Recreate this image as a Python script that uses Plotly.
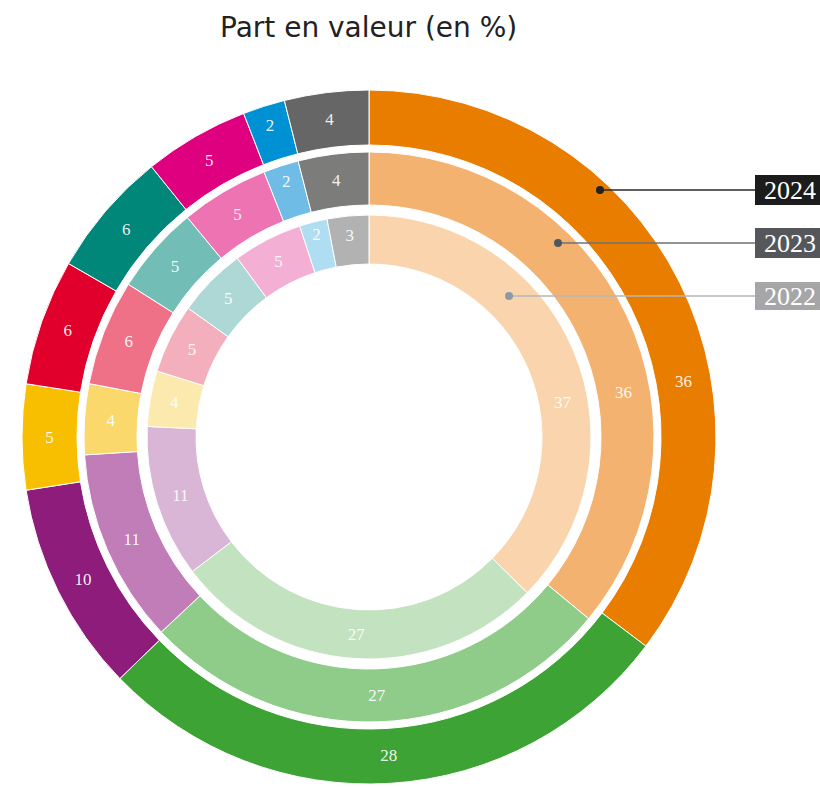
import math
import plotly.graph_objects as go

W, H = 820, 787

categories = ["Cat. A", "Cat. B", "Cat. C", "Cat. D", "Cat. E", "Cat. F", "Cat. G", "Cat. H", "Cat. I"]
values_2024 = [36, 28, 10, 5, 6, 6, 5, 2, 4]
values_2023 = [36, 27, 11, 4, 6, 5, 5, 2, 4]
values_2022 = [37, 27, 11, 4, 5, 5, 5, 2, 3]
years = ["2024", "2023", "2022"]

colors_2024 = ["#E97D00", "#3CA334", "#8D1C7B", "#F8BF00", "#E0002B", "#00877A", "#DF007F", "#0091D5", "#666666"]
colors_2023 = ["#F3B26F", "#8FCB89", "#C07DB7", "#FAD86B", "#EE7187", "#72BEB6", "#EE73B3", "#6FBDE7", "#7C7C7A"]
colors_2022 = ["#F9D4AC", "#C2E2C0", "#DAB6D6", "#FBE9AE", "#F4AFBC", "#AED8D6", "#F4AFD5", "#AFDDF2", "#B2B2B2"]

cx, cy = 369, 437
rings = [
    (values_2024, colors_2024, 347, 292),
    (values_2023, colors_2023, 285, 232),
    (values_2022, colors_2022, 222, 173),
]

LABEL_FONT = dict(family="Liberation Serif", size=17, color="rgba(255,255,255,0.93)")
ORANGE_LABEL_ANGLE = 80  # degrees clockwise from 12 o'clock, as in the reference


def px(x):
    return x / W


def py(y):
    return 1 - y / H


fig = go.Figure()
annotations = []
for (vals, cols, r_out, r_in), yr in zip(rings, years):
    texts = [str(v) for v in vals]
    texts[0] = ""  # first (large) slice label placed separately, as in the reference
    fig.add_trace(go.Pie(
        labels=categories,
        values=vals,
        text=texts,
        textinfo="text",
        textposition="inside",
        insidetextorientation="horizontal",
        textfont=LABEL_FONT,
        marker=dict(colors=cols, line=dict(color="white", width=1)),
        hole=r_in / r_out,
        sort=False,
        direction="clockwise",
        rotation=0,
        name=yr,
        showlegend=False,
        hoverinfo="label+value+name",
        domain=dict(
            x=[(cx - r_out) / W, (cx + r_out) / W],
            y=[(H - cy - r_out) / H, (H - cy + r_out) / H],
        ),
    ))
    rm = (r_out + r_in) / 2
    a = math.radians(ORANGE_LABEL_ANGLE)
    annotations.append(dict(text=str(vals[0]), xref="paper", yref="paper",
                            x=px(cx + rm * math.sin(a)), y=py(cy - rm * math.cos(a)),
                            xanchor="center", yanchor="middle", showarrow=False,
                            font=LABEL_FONT))

shapes = []
label_specs = [
    ("2024", 600, 190, 175, 205, "#1C1C1C", "#2A2A2A", "#222222"),
    ("2023", 558, 243, 228, 258, "#56575B", "#6E7074", "#4E5660"),
    ("2022", 509, 296, 282, 310, "#A6A6A8", "#B4B6B8", "#8C9AA6"),
]
for yr, dx, dy, by0, by1, boxc, linec, dotc in label_specs:
    shapes.append(dict(type="line", xref="paper", yref="paper",
                       x0=px(dx), y0=py(dy), x1=px(755), y1=py(dy),
                       line=dict(color=linec, width=1.5)))
    shapes.append(dict(type="circle", xref="paper", yref="paper",
                       x0=px(dx - 4), x1=px(dx + 4), y0=py(dy + 4), y1=py(dy - 4),
                       fillcolor=dotc, line=dict(width=0)))
    shapes.append(dict(type="rect", xref="paper", yref="paper",
                       x0=px(755), x1=px(830), y0=py(by1), y1=py(by0),
                       fillcolor=boxc, line=dict(width=0)))
    annotations.append(dict(text=yr, xref="paper", yref="paper",
                            x=px(762), y=py((by0 + by1) / 2), xanchor="left", yanchor="middle",
                            showarrow=False,
                            font=dict(family="Liberation Serif", size=26, color="white")))

annotations.append(dict(text="Part en valeur (en %)", xref="paper", yref="paper",
                        x=px(368), y=py(27), xanchor="center", yanchor="middle",
                        showarrow=False,
                        font=dict(family="DejaVu Sans", size=28, color="#222222")))

fig.update_layout(
    width=W, height=H,
    margin=dict(l=0, r=0, t=0, b=0),
    paper_bgcolor="white",
    plot_bgcolor="white",
    shapes=shapes,
    annotations=annotations,
    showlegend=False,
)

fig.write_html(
    "out.html",
    config={"displayModeBar": False},
    post_script=["document.body.style.margin='0px';document.documentElement.style.overflow='hidden';"],
)
